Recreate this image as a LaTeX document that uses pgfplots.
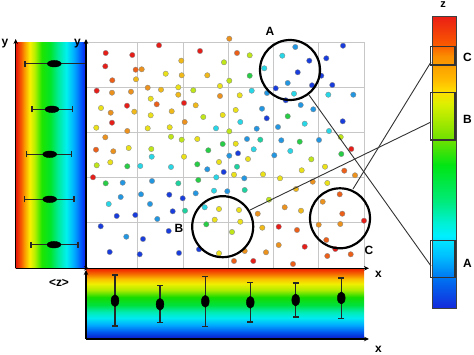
\documentclass[border=0pt]{standalone}
\usepackage{fontspec}
\setmainfont{Liberation Sans}
\usepackage{pgfplots}
\pgfplotsset{compat=1.18}
\usetikzlibrary{arrows.meta}

% dot colours (binned z)
\definecolor{cR}{RGB}{230,30,25}
\definecolor{cRO}{RGB}{235,95,25}
\definecolor{cO}{RGB}{235,145,30}
\definecolor{cGO}{RGB}{240,185,25}
\definecolor{cY}{RGB}{235,225,25}
\definecolor{cYG}{RGB}{190,230,25}
\definecolor{cG}{RGB}{40,205,70}
\definecolor{cCG}{RGB}{30,210,160}
\definecolor{cC}{RGB}{40,215,230}
\definecolor{cLB}{RGB}{35,150,225}
\definecolor{cB}{RGB}{25,60,220}

\pgfdeclarehorizontalshading{leftbar}{100bp}{rgb(0bp)=(0.9,0.08,0.04); rgb(25bp)=(0.9,0.08,0.04);
  rgb(28.75bp)=(0.96,0.35,0); rgb(31.5bp)=(0.98,0.63,0); rgb(35bp)=(0.98,0.94,0);
  rgb(38.5bp)=(0.71,0.94,0); rgb(43.5bp)=(0.12,0.9,0); rgb(49.5bp)=(0,0.9,0.16);
  rgb(55bp)=(0,0.92,0.59); rgb(61bp)=(0,0.94,0.94); rgb(66.5bp)=(0,0.67,1);
  rgb(72bp)=(0,0.31,0.98); rgb(75bp)=(0.08,0.08,0.9); rgb(100bp)=(0.08,0.08,0.9)}
\pgfdeclareverticalshading{bottombar}{100bp}{rgb(0bp)=(0.04,0.08,0.78); rgb(25bp)=(0.04,0.08,0.78);
  rgb(30bp)=(0,0.35,0.94); rgb(35bp)=(0,0.67,1); rgb(40bp)=(0,0.92,0.94);
  rgb(44bp)=(0,0.92,0.71); rgb(49bp)=(0,0.88,0.24); rgb(54.5bp)=(0.08,0.86,0);
  rgb(59.5bp)=(0.67,0.92,0); rgb(64bp)=(0.94,0.94,0); rgb(67.5bp)=(0.98,0.75,0);
  rgb(71bp)=(0.96,0.43,0); rgb(75bp)=(0.94,0.12,0); rgb(100bp)=(0.94,0.12,0)}
\pgfdeclareverticalshading{zbar}{100bp}{rgb(0bp)=(0.08,0.16,0.86); rgb(25bp)=(0.08,0.16,0.86);
  rgb(29.8bp)=(0,0.43,0.94); rgb(34bp)=(0,0.75,1); rgb(37.5bp)=(0,0.94,1);
  rgb(39.8bp)=(0,0.94,0.82); rgb(43.5bp)=(0,0.92,0.47); rgb(49.5bp)=(0,0.9,0.08);
  rgb(53.9bp)=(0.43,0.88,0); rgb(60bp)=(0.86,0.94,0); rgb(62.1bp)=(1,0.88,0);
  rgb(64.2bp)=(1,0.73,0); rgb(68.3bp)=(0.98,0.55,0); rgb(70.2bp)=(0.98,0.35,0);
  rgb(75bp)=(0.92,0.12,0.08); rgb(100bp)=(0.92,0.12,0.08)}

\tikzset{dot/.style={draw=black!45, line width=0.35bp, fill=#1}}
\pgfplotsset{panel/.style={scale only axis, hide axis, clip=false, y dir=reverse}}

\begin{document}
\begin{tikzpicture}
\useasboundingbox (0,0) rectangle (474bp,355bp);

% main scatter
\begin{axis}[
  at={(86bp,86.7bp)}, anchor=south west,
  scale only axis, width=278bp, height=226bp,
  xmin=86, xmax=364, ymin=42.3, ymax=268.3, y dir=reverse,
  xtick={137.7,183.3,228.3,273.3,318.7}, ytick={87.3,132.7,177.7,222.7},
  xticklabel={}, yticklabel={}, major tick length=0pt,
  grid=major, grid style={black!22, line width=1bp},
  axis line style={black!22, line width=1bp},
  clip=false]
\addplot[scatter, only marks, mark=*, mark size=2.7bp,
  point meta=explicit symbolic,
  scatter/classes={R={dot=cR}, RO={dot=cRO}, O={dot=cO}, GO={dot=cGO},
    Y={dot=cY}, YG={dot=cYG}, G={dot=cG}, CG={dot=cCG}, C={dot=cC},
    LB={dot=cLB}, B={dot=cB}}]
table[meta=c]{
x y c
159 45.3 R
105.7 53 R
132.3 55 R
200 51 R
181.3 60.7 GO
224 62.3 YG
105.3 66.3 R
135.7 69.7 RO
141.7 69.3 O
165.7 73.7 Y
181.7 75.3 GO
207.3 75.3 GO
112.3 80.3 RO
136 79.3 GO
220 86 Y
178.3 87.3 Y
147.7 87.7 O
161 89.7 GO
193.3 90.3 YG
96.7 90.7 R
112 92.7 O
131 91.7 O
178.3 94.7 GO
220 96 O
150.7 98.7 Y
156.7 104.3 RO
184 103 R
195.7 105.3 GO
127 105.7 R
101 108 Y
134.3 111.7 GO
110.7 112.7 O
171.7 111.3 GO
150.7 115.3 Y
203.3 117 YG
222.7 115 Y
184.7 122 O
112 122.7 R
96.3 127.7 Y
147.7 128.3 Y
169.7 127.3 Y
216 128.3 C
127.3 131 O
105.3 137.3 O
171 136.7 YG
181.7 139.7 YG
197.3 139 Y
222.7 144 G
96 149.7 RO
128.7 148 Y
151.3 149 YG
113.3 151.3 O
208.3 150.3 G
229.3 38.7 O
237 53 RO
249.7 55.3 YG
295.3 47 LB
282.3 55.7 C
343 45.7 B
326.3 58.3 B
309.3 60.7 B
264.3 68.3 C
297.7 72.3 B
249.7 75.7 G
321.3 75.7 B
229.3 80.7 YG
287.7 83 LB
312 85.3 B
332.3 85 B
275.7 88.3 B
251.7 90.7 C
267 93 LB
294 93.7 C
239.7 95.3 Y
328.3 94.7 C
353.3 94.7 LB
285.7 100.3 B
300.7 105 LB
262 108.7 LB
313.3 109.3 LB
235.7 110 Y
266.7 118.3 B
287.7 116.3 G
342.7 121.3 B
240.3 122 C
304.7 123.7 C
278 127 LB
256.7 128.7 LB
329 131 C
229.3 131.3 YG
340.7 137 YG
351.3 149 R
247 139 LB
260.3 139.7 CG
281.3 140.3 LB
299.7 141.7 G
319 140 LB
235.7 143.7 Y
253.7 149.3 C
290.3 151 C
96.7 165.3 YG
110.3 162.3 Y
127.3 166.3 G
140.3 166 C
151.7 156.7 C
184 156.7 Y
171 167 C
197.3 164.3 G
219 162 Y
207.3 169.3 LB
223.7 172 B
93 177.3 R
105.7 183.3 G
122.7 182.7 LB
152 181 LB
178.3 183.3 CG
198.3 180 G
216.3 177.3 C
120.7 197 LB
141 194.3 LB
169.3 194.7 B
182.7 198.3 B
195.7 193.3 LB
214 190.7 C
108.7 204 C
150 204 LB
172.7 211.3 B
185 210.7 CG
204.7 207.3 C
219 209 Y
116.7 216 B
135.3 215 B
157.3 219 LB
214.7 219.7 Y
206.3 224.3 G
100.7 226.3 B
168.7 231 B
126.3 236.7 LB
143 239 B
109.7 252 B
139.7 254.3 B
179 253 B
199 249.3 B
219 253.3 Y
229.3 155.7 LB
238 153.3 B
274.3 155.3 LB
311.3 159.3 YG
341.3 154 G
234 174.7 Y
237 166.7 CG
248 159 Y
244.3 178.3 LB
263 174.3 Y
280 178.3 Y
301.7 170.3 Y
325 166.7 Y
344.3 170.7 RO
355 175.3 O
312.7 181.7 O
327.3 183 Y
227.3 191.3 LB
244.7 190 CG
296 189 GO
269 199.7 YG
339.7 194.3 RO
322.7 201.7 O
284.7 207.3 O
301 210.7 GO
239 210 Y
257.7 213.7 O
342.3 213.7 RO
240.3 221.7 Y
262.3 227.7 GO
278.7 226.7 R
297 230 RO
318.7 224.7 O
340.3 224 O
364 220.7 R
232 232 YG
326.3 240 RO
278.7 245 O
304.7 246.7 R
335.3 249 R
244.7 251 O
266 252.3 O
327.3 256 RO
350.7 254.3 RO
234 261 RO
253.3 261 R
293 264 RO
};
\end{axis}

% left panel: <z> per row
\begin{axis}[panel, at={(15.7bp,86.7bp)}, anchor=south west,
  width=70.3bp, height=226bp,
  xmin=15.7, xmax=86, ymin=42.3, ymax=268.3]
\shade[shading=leftbar] (rel axis cs:0,0) rectangle (rel axis cs:1,1);
\addplot[only marks, mark=*, mark size=3.3bp, mark options={xscale=2.1, fill=black, draw=black},
  error bars/.cd, x dir=both, x explicit,
  error bar style={line width=1.2bp, black!85},
  error mark options={rotate=90, line width=1.2bp, mark size=3bp, black!85}]
table[x error minus=em, x error plus=ep]{
x y em ep
54.3 63.7 29.3 31
52 109.3 20 20.7
49.7 154.3 23 22
49.7 199.3 25 24.3
54 244.7 23 24
};
\end{axis}

% bottom panel: <y> per column
\begin{axis}[panel, at={(86bp,16bp)}, anchor=south west,
  width=278bp, height=70.7bp,
  xmin=86, xmax=364, ymin=268.3, ymax=339]
\shade[shading=bottombar] (rel axis cs:0,0) rectangle (rel axis cs:1,1);
\addplot[only marks, mark=*, mark size=3.9bp, mark options={yscale=1.55, fill=black, draw=black},
  error bars/.cd, y dir=both, y explicit,
  error bar style={line width=1.2bp, black!85},
  error mark options={rotate=90, line width=1.2bp, mark size=3bp, black!85}]
table[y error minus=em, y error plus=ep]{
x y em ep
115 300.7 25.7 25.3
160 304.3 18.6 18.4
205.3 301.3 24.6 25
250.3 302.3 20 19.7
295.7 300 17 17
341.3 298 20 20.3
};
\end{axis}

% annotations in picture pixels (y down)
\begin{scope}[x=1bp, y=-1bp, shift={(0bp,355bp)}]
\tikzset{ar/.style={line width=1.3bp, -{Stealth[length=5bp,width=4.5bp]}},
  lab/.style={font=\bfseries\fontsize{12}{12}\selectfont}}
\draw[ar] (15.7,268.3) -- (15.7,39);
\draw[ar] (15.7,268.3) -- (89,268.3);
\draw[ar] (86,268.3) -- (86,39);
\draw[ar] (86,268.3) -- (369,268.3);
\draw[ar] (86,339) -- (86,270);
\draw[ar] (86,339) -- (369,339);
\node[lab] at (5,44) {y};
\node[lab] at (77.5,44) {y};
\node[lab] at (59,283) {<z>};
\node[lab] at (378.5,274) {x};
\node[lab] at (378.5,349) {x};

% colour scale on the right
\shade[shading=zbar] (432.7,16.7) rectangle (456.7,308.3);
\draw[black!75, line width=0.8bp] (432.7,16.7) rectangle (456.7,308.3);
\draw[black!80, line width=1.4bp] (430.7,46.7) rectangle (455,65);
\draw[black!80, line width=1.4bp] (430.7,92.7) rectangle (455,140);
\draw[black!80, line width=1.4bp] (430.7,240.7) rectangle (455,277.3);
\node[lab, font=\bfseries\fontsize{11}{11}\selectfont] at (443,5) {z};
\node[lab] at (467.5,57) {C};
\node[lab] at (467.5,119.5) {B};
\node[lab] at (467.5,263.5) {A};

% circled regions and their links
\draw[line width=2.2bp] (290,70) circle[radius=30bp];
\draw[line width=2.2bp] (222.7,226.7) circle[radius=30.5bp];
\draw[line width=2.2bp] (340,218.3) circle[radius=30bp];
\draw[black!80, line width=0.9bp] (309,95) -- (431,266);
\draw[black!80, line width=0.9bp] (250,210) -- (431,122);
\draw[black!80, line width=0.9bp] (353,189) -- (431,62);
\node[lab] at (270,31.5) {A};
\node[lab] at (179,228) {B};
\node[lab] at (369,250) {C};
\end{scope}
\end{tikzpicture}
\end{document}
